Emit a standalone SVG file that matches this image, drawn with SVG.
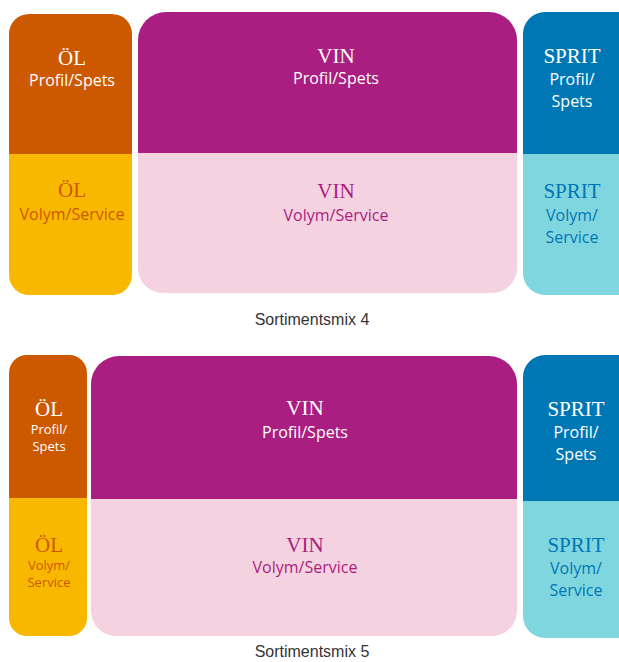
<svg xmlns="http://www.w3.org/2000/svg" width="619" height="662" viewBox="0 0 619 662">
<style>
.t{font-family:"Liberation Serif","DejaVu Serif",serif;font-size:21px;text-anchor:middle}
.s{font-family:"Open Sans","Noto Sans",sans-serif;font-size:16px;text-anchor:middle}
.ss{font-family:"Open Sans","Noto Sans",sans-serif;font-size:13px;text-anchor:middle}
.cap{font-family:"Liberation Sans",Arial,sans-serif;font-size:16px;fill:#333;text-anchor:middle}
.w{fill:#fff}
.olT{fill:#CC5800}.olB{fill:#F9B800}
.vinT{fill:#A91E80}.vinB{fill:#F4D2E0}
.spT{fill:#0077B5}.spB{fill:#80D6DF}
</style>
<g id="mix4">
<g id="ol4-top"><path class="olT" d="M9,154 V34 A20,20 0 0 1 29,14 H112 A20,20 0 0 1 132,34 V154 Z"/>
<text class="t w" x="72" y="65">ÖL</text><text class="s w" x="72" y="86">Profil/Spets</text></g>
<g id="ol4-bot"><path class="olB" d="M9,154 H132 V275 A20,20 0 0 1 112,295 H29 A20,20 0 0 1 9,275 Z"/>
<text class="t olT" x="72" y="197">ÖL</text><text class="s olT" x="72" y="220">Volym/Service</text></g>
<g id="vin4-top"><path class="vinT" d="M138,153 V40 A28,28 0 0 1 166,12 H489 A28,28 0 0 1 517,40 V153 Z"/>
<text class="t w" x="336" y="63">VIN</text><text class="s w" x="336" y="84">Profil/Spets</text></g>
<g id="vin4-bot"><path class="vinB" d="M138,153 H517 V268 A25,25 0 0 1 492,293 H163 A25,25 0 0 1 138,268 Z"/>
<text class="t vinT" x="336" y="198">VIN</text><text class="s vinT" x="336" y="221">Volym/Service</text></g>
<g id="sp4-top"><path class="spT" d="M523,154 V34 A22,22 0 0 1 545,12 H640 V154 Z"/>
<text class="t w" x="572" y="63">SPRIT</text><text class="s w" x="572" y="85">Profil/</text><text class="s w" x="572" y="107">Spets</text></g>
<g id="sp4-bot"><path class="spB" d="M523,154 H640 V295 H545 A22,22 0 0 1 523,273 Z"/>
<text class="t spT" x="572" y="198">SPRIT</text><text class="s spT" x="572" y="221">Volym/</text><text class="s spT" x="572" y="243">Service</text></g>
<text class="cap" x="312" y="325">Sortimentsmix 4</text>
</g>
<g id="mix5">
<g id="ol5-top"><path class="olT" d="M9,498 V373 A18,18 0 0 1 27,355 H69 A18,18 0 0 1 87,373 V498 Z"/>
<text class="t w" x="49" y="416">ÖL</text><text class="ss w" x="49" y="434">Profil/</text><text class="ss w" x="49" y="451">Spets</text></g>
<g id="ol5-bot"><path class="olB" d="M9,498 H87 V618 A18,18 0 0 1 69,636 H27 A18,18 0 0 1 9,618 Z"/>
<text class="t olT" x="49" y="552">ÖL</text><text class="ss olT" x="49" y="570">Volym/</text><text class="ss olT" x="49" y="587">Service</text></g>
<g id="vin5-top"><path class="vinT" d="M91,499 V384 A28,28 0 0 1 119,356 H489 A28,28 0 0 1 517,384 V499 Z"/>
<text class="t w" x="305" y="415">VIN</text><text class="s w" x="305" y="438">Profil/Spets</text></g>
<g id="vin5-bot"><path class="vinB" d="M91,499 H517 V611 A25,25 0 0 1 492,636 H116 A25,25 0 0 1 91,611 Z"/>
<text class="t vinT" x="305" y="552">VIN</text><text class="s vinT" x="305" y="573">Volym/Service</text></g>
<g id="sp5-top"><path class="spT" d="M523,501 V377 A22,22 0 0 1 545,355 H640 V501 Z"/>
<text class="t w" x="576" y="416">SPRIT</text><text class="s w" x="576" y="438">Profil/</text><text class="s w" x="576" y="460">Spets</text></g>
<g id="sp5-bot"><path class="spB" d="M523,501 H640 V638 H545 A22,22 0 0 1 523,616 Z"/>
<text class="t spT" x="576" y="552">SPRIT</text><text class="s spT" x="576" y="574">Volym/</text><text class="s spT" x="576" y="596">Service</text></g>
<text class="cap" x="312" y="657">Sortimentsmix 5</text>
</g>
</svg>
